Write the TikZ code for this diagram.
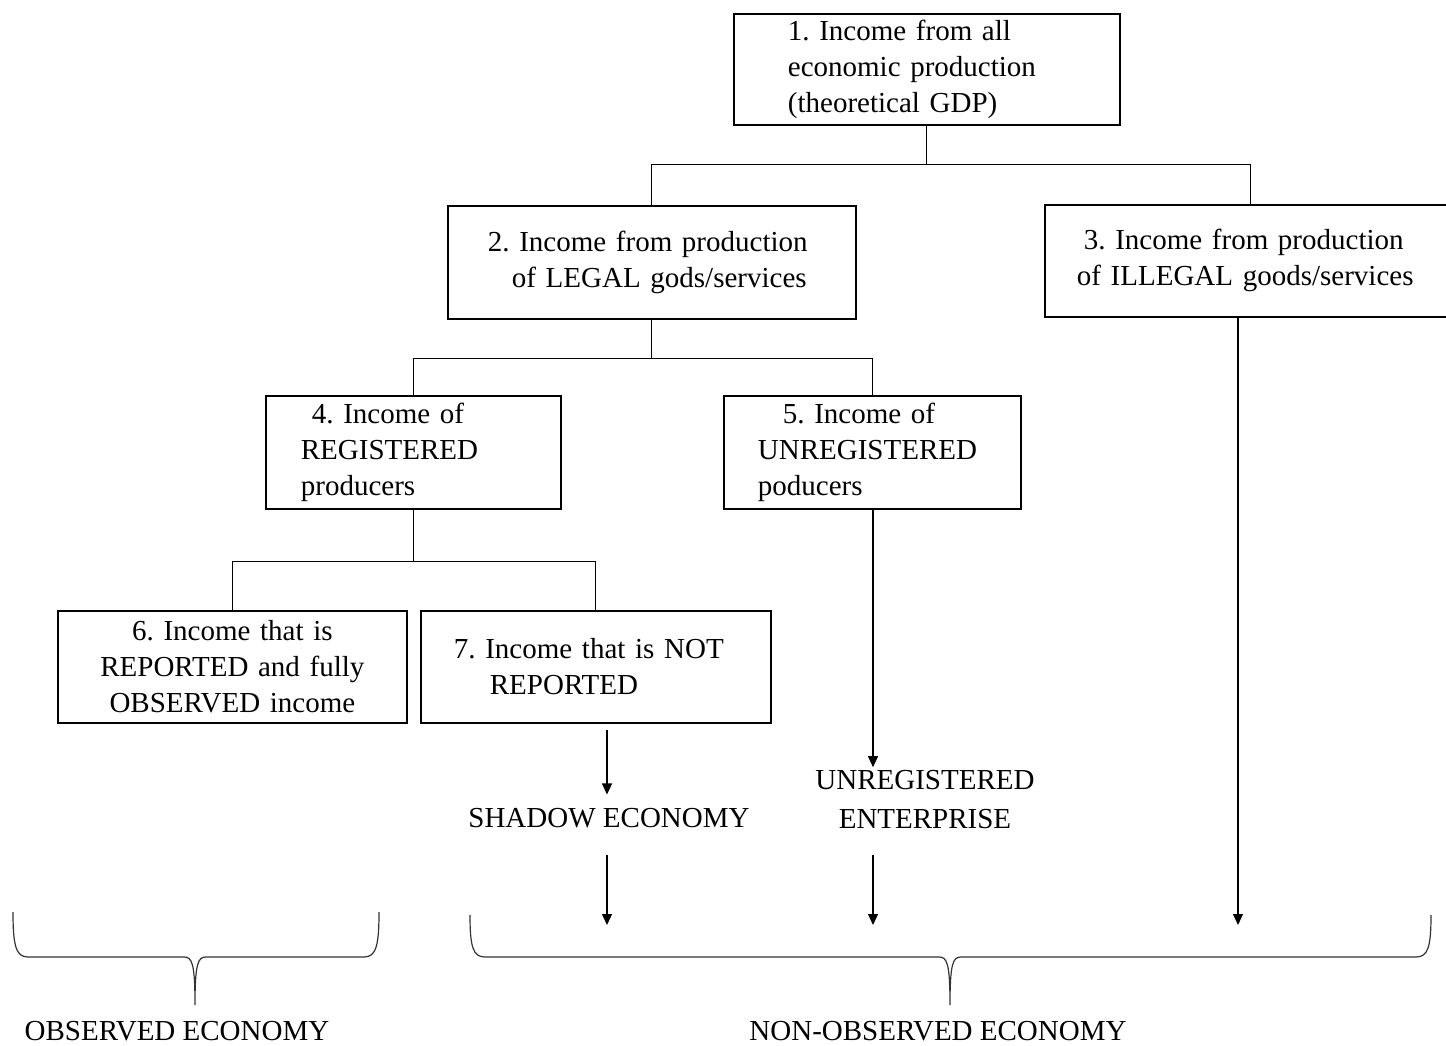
\documentclass[tikz,border=0pt]{standalone}
\usepackage{fontspec}
\setmainfont{Liberation Serif}
\frenchspacing
\usetikzlibrary{arrows.meta,positioning,calc}

\begin{document}
\begin{tikzpicture}[x=1pt,y=-1pt,>={Triangle[width=10pt,length=11pt]},
  font=\fontsize{29}{36}\selectfont,
  inc/.style={draw,line width=1.8pt,anchor=north west,align=left,inner ysep=0pt},
  lnk/.style={line width=1.1pt},
  arr/.style={line width=1.1pt,->},
  brc/.style={line width=1.2pt,black!80}]
  \useasboundingbox (0,0) rectangle (1446,1046);
  % income boxes
  \node[inc,minimum height=111pt,text width=278pt,inner xsep=54pt] (all) at (733,13)
    {1. Income from all\\economic production\\(theoretical GDP)};
  \node[inc,minimum height=113pt,text width=328pt,inner xsep=40pt] (legal) at (447,205)
    {2. Income from production\\\hspace*{24pt}of LEGAL gods/services};
  \node[inc,minimum height=112pt,text width=348pt,inner xsep=32pt] (illegal) at (1044,204)
    {\hspace*{7pt}3. Income from production\\of ILLEGAL goods/services};
  \node[inc,minimum height=113pt,text width=225pt,inner xsep=35pt] (reg) at (265,395)
    {\hspace*{11pt}4. Income of\\REGISTERED\\producers};
  \node[inc,minimum height=113pt,text width=229pt,inner xsep=34pt] (unreg) at (723,395)
    {\hspace*{25pt}5. Income of\\UNREGISTERED\\poducers};
  \node[inc,minimum height=112pt,text width=319pt,inner xsep=15pt,align=center] (rep) at (57,610)
    {6. Income that is\\REPORTED and fully\\OBSERVED income};
  \node[inc,minimum height=112pt,text width=284pt,inner xsep=33pt] (notrep) at (420,610)
    {7. Income that is NOT\\\hspace*{36pt}REPORTED};
  % tree lines
  \draw[lnk] (all.south) -- ++(0,39) coordinate (j1);
  \draw[lnk] (legal.north) |- (j1) -| (illegal.north);
  \draw[lnk] (legal.south) -- ++(0,39) coordinate (j2);
  \draw[lnk] (reg.north) |- (j2) -| (unreg.north);
  \draw[lnk] (reg.south) -- ++(0,52) coordinate (j3);
  \draw[lnk] (rep.north) |- (j3) -| (notrep.north);
  % outcomes
  \node[inner ysep=13.5pt] (shadow) at (609,818) {SHADOW ECONOMY};
  \node[inner ysep=3.4pt,align=center,font=\fontsize{29}{39}\selectfont] (ent) at (925,800)
    {UNREGISTERED\\ENTERPRISE};
  \coordinate (s1) at (607,925);
  \coordinate (s2) at (873,925);
  \coordinate (s3) at (1238,925);
  \draw[arr] ($(notrep.south -| s1)+(0,6)$) -- (shadow.north -| s1);
  \draw[arr] ($(shadow.south -| s1)+(0,13.5)$) -- (s1);
  \draw[arr] (unreg.south -| s2) -- (ent.north -| s2);
  \draw[arr] ($(ent.south -| s2)+(0,22)$) -- (s2);
  \draw[arr] (illegal.south -| s3) -- (s3);
  % braces
  \draw[brc] (13,912) .. controls (13,946) and (16,957) .. (28,957) -- (184,957)
    .. controls (192,957) and (195,963) .. (195,1005)
    .. controls (195,963) and (198,957) .. (206,957) -- (364,957)
    .. controls (376,957) and (379,946) .. (379,912);
  \draw[brc] (470,915) .. controls (470,947) and (473,957) .. (485,957) -- (939,957)
    .. controls (947,957) and (950,963) .. (950,1005)
    .. controls (950,963) and (953,957) .. (961,957) -- (1416,957)
    .. controls (1428,957) and (1431,947) .. (1431,915);
  \node (obs) at (177,1031) {OBSERVED ECONOMY};
  \node (nonobs) at (938,1031) {NON-OBSERVED ECONOMY};
\end{tikzpicture}
\end{document}
